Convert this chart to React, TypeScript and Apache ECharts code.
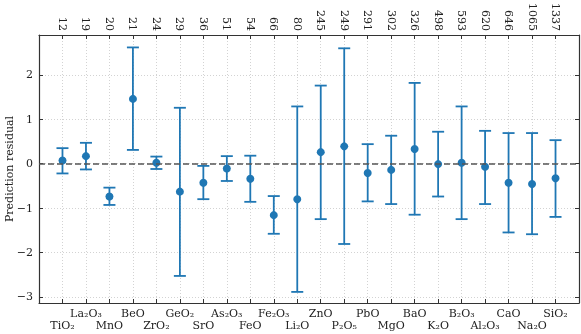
import React, { useEffect, useRef } from "react";
import * as echarts from "echarts";

const categories = ["TiO₂", "La₂O₃", "MnO", "BeO", "ZrO₂", "GeO₂", "SrO", "As₂O₃", "FeO", "Fe₂O₃", "Li₂O", "ZnO", "P₂O₅", "PbO", "MgO", "BaO", "K₂O", "B₂O₃", "Al₂O₃", "CaO", "Na₂O", "SiO₂"];
const counts = [12, 19, 20, 21, 24, 29, 36, 51, 54, 66, 80, 245, 249, 291, 302, 326, 498, 593, 620, 646, 1065, 1337];
const residual = [0.07, 0.17, -0.74, 1.46, 0.02, -0.63, -0.43, -0.11, -0.34, -1.16, -0.8, 0.26, 0.39, -0.21, -0.14, 0.33, -0.01, 0.02, -0.07, -0.43, -0.46, -0.33];
const upper = [0.35, 0.47, -0.54, 2.62, 0.16, 1.26, -0.05, 0.17, 0.18, -0.73, 1.29, 1.76, 2.6, 0.44, 0.63, 1.82, 0.72, 1.29, 0.74, 0.69, 0.69, 0.53];
const lower = [-0.22, -0.13, -0.93, 0.31, -0.12, -2.53, -0.8, -0.39, -0.86, -1.58, -2.89, -1.25, -1.81, -0.85, -0.91, -1.15, -0.74, -1.25, -0.91, -1.55, -1.59, -1.2];
const yTicks = [-3, -2, -1, 0, 1, 2];

const FONT = "DejaVu Serif";
const BLUE = "#1f77b4";
const SPINE = "#333333";
const GRID = "#c8c8c8";

export default function App() {
  const ref = useRef<HTMLDivElement>(null);
  useEffect(() => {
    if (!ref.current) return;
    const chart = echarts.init(ref.current, null, { renderer: "svg" });
    const n = categories.length;
    const xMin = -1;
    const xMax = n;
    const idx = (v: number) => {
      const i = Math.round(v);
      return i >= 0 && i < n && Math.abs(v - i) < 1e-6 ? i : -1;
    };
    const fmtY = (v: number) => {
      const r = Math.round(v * 100) / 100;
      if (!yTicks.includes(r)) return "";
      return r < 0 ? "\u2212" + Math.abs(r) : String(r);
    };
    const option: any = {
      animation: false,
      grid: { left: 39, right: 2, top: 35, bottom: 31, outerBoundsMode: "none", containLabel: false },
      xAxis: [
        {
          type: "value",
          position: "bottom",
          min: xMin,
          max: xMax,
          interval: 1,
          axisLine: { show: true, onZero: false, lineStyle: { color: SPINE, width: 1.2 } },
          axisTick: { show: true, inside: true, length: 4, lineStyle: { color: SPINE, width: 1 } },
          axisLabel: {
            show: true,
            margin: 4,
            fontFamily: FONT,
            fontSize: 11,
            color: "#222",
            lineHeight: 12.5,
            verticalAlign: "top",
            showMinLabel: false,
            showMaxLabel: false,
            formatter: (v: number) => {
              const i = idx(v);
              if (i < 0) return "";
              return i % 2 === 0 ? "\n" + categories[i] : categories[i];
            },
          },
          splitLine: { show: true, showMinLine: false, showMaxLine: false, lineStyle: { color: GRID, type: [1, 2], width: 0.8 } },
        },
        {
          type: "value",
          position: "top",
          min: xMin,
          max: xMax,
          interval: 1,
          axisLine: { show: true, onZero: false, lineStyle: { color: SPINE, width: 1.2 } },
          axisTick: { show: true, inside: true, length: 4, lineStyle: { color: SPINE, width: 1 } },
          axisLabel: {
            show: true,
            margin: 4,
            rotate: 90,
            fontFamily: FONT,
            fontSize: 11,
            color: "#222",
            showMinLabel: false,
            showMaxLabel: false,
            formatter: (v: number) => {
              const i = idx(v);
              return i < 0 ? "" : String(counts[i]);
            },
          },
          splitLine: { show: false },
        },
      ],
      yAxis: [
        {
          type: "value",
          position: "left",
          min: -3.14,
          max: 2.9,
          splitNumber: 6,
          name: "Prediction residual",
          nameLocation: "middle",
          nameGap: 24,
          nameMoveOverlap: false,
          nameTextStyle: { fontFamily: FONT, fontSize: 11, color: "#222" },
          axisLine: { show: true, onZero: false, lineStyle: { color: SPINE, width: 1.2 } },
          axisTick: { show: true, inside: true, length: 4, lineStyle: { color: SPINE, width: 1 } },
          axisLabel: {
            show: true,
            margin: 6,
            fontFamily: FONT,
            fontSize: 11,
            color: "#222",
            showMinLabel: false,
            showMaxLabel: false,
            formatter: fmtY,
          },
          splitLine: { show: true, showMinLine: false, showMaxLine: false, lineStyle: { color: GRID, type: [1, 2], width: 0.8 } },
        },
        {
          type: "value",
          position: "right",
          min: -3.14,
          max: 2.9,
          splitNumber: 6,
          axisLine: { show: true, onZero: false, lineStyle: { color: SPINE, width: 1.2 } },
          axisTick: { show: true, inside: true, length: 4, lineStyle: { color: SPINE, width: 1 } },
          axisLabel: { show: false },
          splitLine: { show: false },
        },
      ],
      series: [
        {
          type: "custom",
          xAxisIndex: 0,
          yAxisIndex: 0,
          z: 2,
          data: categories.map((_, i) => [i, lower[i], upper[i]]),
          encode: { x: 0, y: [1, 2] },
          renderItem: (params: any, api: any) => {
            const x = api.value(0);
            const lo = api.coord([x, api.value(1)]);
            const hi = api.coord([x, api.value(2)]);
            const cap = 6;
            const style = { stroke: BLUE, lineWidth: 1.8, fill: "none" };
            return {
              type: "group",
              children: [
                { type: "line", shape: { x1: hi[0], y1: hi[1], x2: lo[0], y2: lo[1] }, style },
                { type: "line", shape: { x1: hi[0] - cap, y1: hi[1], x2: hi[0] + cap, y2: hi[1] }, style },
                { type: "line", shape: { x1: lo[0] - cap, y1: lo[1], x2: lo[0] + cap, y2: lo[1] }, style },
              ],
            };
          },
          markLine: {
            silent: true,
            symbol: "none",
            label: { show: false },
            lineStyle: { color: "#555555", type: [6, 3], width: 1.5 },
            data: [{ yAxis: 0 }],
          },
        },
        {
          type: "scatter",
          xAxisIndex: 0,
          yAxisIndex: 0,
          z: 3,
          symbol: "circle",
          symbolSize: 8,
          itemStyle: { color: BLUE, opacity: 1 },
          data: categories.map((_, i) => [i, residual[i]]),
        },
      ],
    };
    chart.setOption(option);
    return () => chart.dispose();
  }, []);
  return <div ref={ref} style={{ position: "fixed", left: 0, top: 0, width: 581, height: 334 }} />;
}
